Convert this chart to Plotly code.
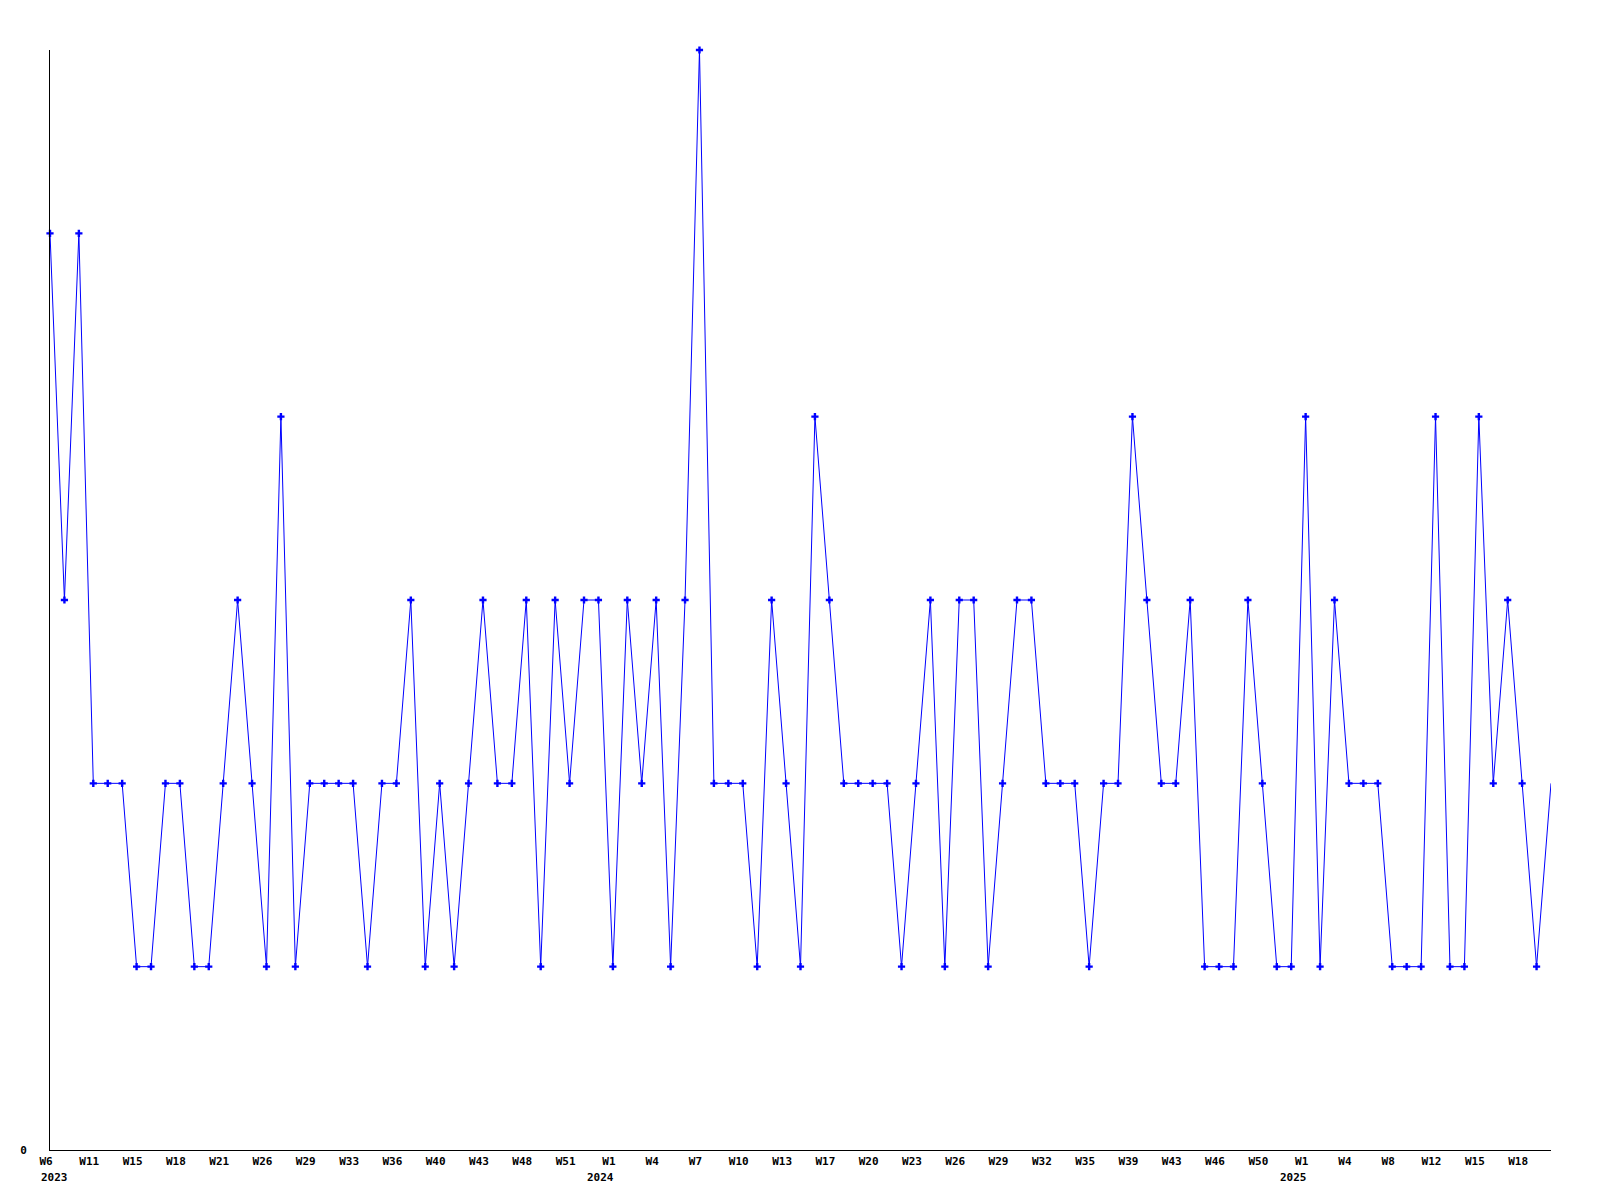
import plotly.graph_objects as go

values = [5, 3, 5, 2, 2, 2, 1, 1, 2, 2, 1, 1, 2, 3, 2, 1, 4, 1, 2, 2,
          2, 2, 1, 2, 2, 3, 1, 2, 1, 2, 3, 2, 2, 3, 1, 3, 2, 3, 3, 1,
          3, 2, 3, 1, 3, 6, 2, 2, 2, 1, 3, 2, 1, 4, 3, 2, 2, 2, 2, 1,
          2, 3, 1, 3, 3, 1, 2, 3, 3, 2, 2, 2, 1, 2, 2, 4, 3, 2, 2, 3,
          1, 1, 1, 3, 2, 1, 1, 4, 1, 3, 2, 2, 2, 1, 1, 1, 4, 1, 1, 4,
          2, 3, 2, 1, 2]

tick_labels = ["W6", "W11", "W15", "W18", "W21", "W26", "W29", "W33",
               "W36", "W40", "W43", "W48", "W51", "W1", "W4", "W7",
               "W10", "W13", "W17", "W20", "W23", "W26", "W29", "W32", "W35",
               "W39", "W43", "W46", "W50", "W1", "W4", "W8", "W12",
               "W15", "W18"]
tick_step = 3

year_labels = ["2023", "2024", "2025"]
year_points = [0, 39, 87]

x = list(range(len(values)))
tick_pos = [i * tick_step for i in range(len(tick_labels))]

fig = go.Figure()
fig.add_trace(go.Scatter(
    x=x[:-1], y=values[:-1], mode="markers",
    marker=dict(symbol="cross", size=6, color="#0000ff"),
    hoverinfo="skip", showlegend=False, cliponaxis=False,
))
fig.add_trace(go.Scatter(
    x=x, y=values, mode="lines",
    line=dict(color="#0000ff", width=1),
    showlegend=False, cliponaxis=False,
))

font = dict(family="DejaVu Sans Mono", size=11, color="#000000", weight="bold")

for k, (lab, p) in enumerate(zip(year_labels, year_points)):
    first = (k == 0)
    fig.add_annotation(
        x=p, xref="x", y=0, yref="paper",
        text=lab, showarrow=False, font=font,
        xanchor="left" if first else "right",
        xshift=-10 if first else 2,
        yanchor="middle", yshift=-27, borderpad=0,
    )

fig.update_layout(
    width=1600, height=1200,
    margin=dict(l=42, r=57, t=42, b=58),
    plot_bgcolor="#ffffff", paper_bgcolor="#ffffff",
    font=font,
    showlegend=False,
)
fig.update_xaxes(
    range=[0, len(values) - 1],
    tickmode="array", tickvals=tick_pos, ticktext=tick_labels,
    showgrid=False, zeroline=False, automargin=False,
    showline=True, linecolor="#000000", linewidth=1,
    ticks="", tickfont=font, ticklabelshift=-4, ticklabelstandoff=1,
)
fig.update_yaxes(
    range=[0, 6],
    tickmode="array", tickvals=[0], ticktext=["0"],
    showgrid=False, zeroline=False, automargin=False,
    showline=True, linecolor="#000000", linewidth=1,
    ticks="", tickfont=font, ticklabelstandoff=20,
)

fig.write_html("out.html")
